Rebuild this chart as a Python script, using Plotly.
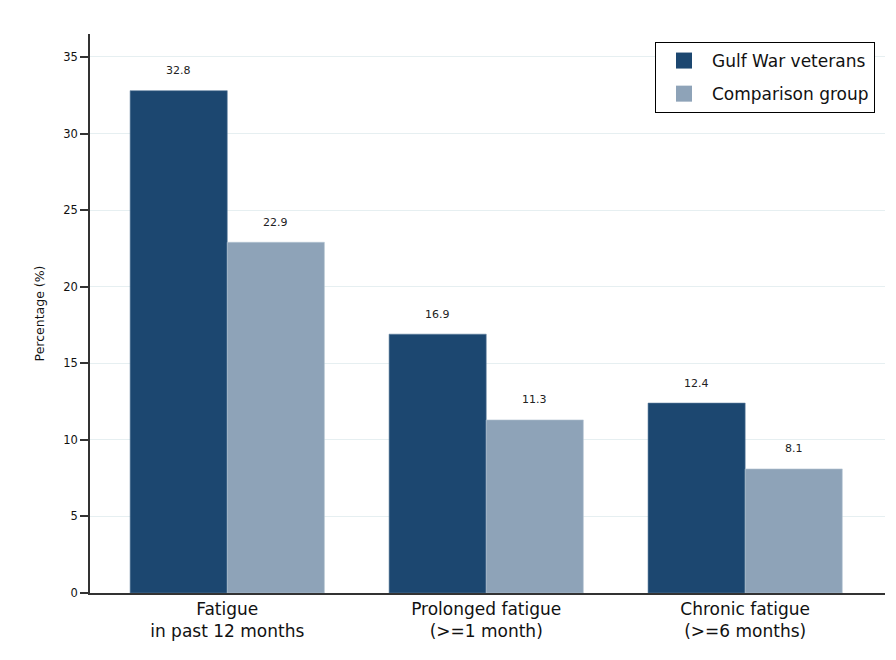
import plotly.graph_objects as go

categories = ["Fatigue<br>in past 12 months", "Prolonged fatigue<br>(>=1 month)", "Chronic fatigue<br>(>=6 months)"]
gulf_values = [32.8, 16.9, 12.4]
comparison_values = [22.9, 11.3, 8.1]
series_names = ["Gulf War veterans", "Comparison group"]
y_ticks = [0, 5, 10, 15, 20, 25, 30, 35]

dark = "#1c4770"
light = "#8ea3b8"
font_family = "DejaVu Sans, Liberation Sans, Arial, sans-serif"

x_idx = list(range(len(categories)))
fig = go.Figure()
fig.add_trace(go.Bar(x=x_idx, y=gulf_values, name=series_names[0], showlegend=False,
                     marker=dict(color=dark, line=dict(color="#5a7c9c", width=0.6))))
fig.add_trace(go.Bar(x=x_idx, y=comparison_values, name=series_names[1], showlegend=False,
                     marker=dict(color=light, line=dict(color="#b4c4d2", width=0.6))))
# legend entries (larger square keys, like the reference)
for name, col, grp in ((series_names[0], dark, "g1"), (series_names[1], light, "g2")):
    fig.add_trace(go.Scatter(x=[None], y=[None], mode="markers", name=name, legendgroup=grp,
                             marker=dict(symbol="square", size=16, color=col), hoverinfo="skip"))

bargap = 0.25
bw = (1 - bargap) / 2
annotations = []
for i, (g, c) in enumerate(zip(gulf_values, comparison_values)):
    for off, v in ((-bw / 2, g), (bw / 2, c)):
        annotations.append(dict(x=i + off, y=v, xref="x", yref="y", text=f"{v}",
                                showarrow=False, yshift=20,
                                font=dict(size=11, color="#222222", family=font_family)))

# page body has an 8px margin, so the figure is placed at (8, 8) on screen
OFF = 8
W, H = 896 - OFF, 660 - OFF
L, R, T, B = 90 - OFF, W - (885 - OFF), 34 - OFF, H - (593 - OFF)
pw, ph = W - L - R, H - T - B

def px_x(p):
    return (p - OFF - L) / pw

def px_y(p):
    return (H - B - (p - OFF)) / ph

fig.update_layout(
    width=W, height=H,
    margin=dict(l=L, r=R, t=T, b=B, pad=0, autoexpand=False),
    paper_bgcolor="white",
    plot_bgcolor="white",
    barmode="group",
    bargap=bargap,
    bargroupgap=0,
    font=dict(family=font_family, color="#111111"),
    annotations=annotations,
    legend=dict(x=px_x(655), y=px_y(42), xanchor="left", yanchor="top",
                bordercolor="black", borderwidth=1, bgcolor="white",
                font=dict(size=17, family=font_family, color="#111111"),
                tracegroupgap=8, itemwidth=46, itemsizing="trace"),
    showlegend=True,
)
fig.update_xaxes(
    range=[-0.53, 2.54], tickmode="array", tickvals=x_idx,
    ticktext=categories, showline=True, linecolor="#333333", linewidth=1.5,
    ticks="", showgrid=False, zeroline=False, automargin=False,
    tickfont=dict(size=17, family=font_family, color="#111111"),
)
fig.update_yaxes(
    range=[0, 36.5], tickvals=y_ticks, showline=True, linecolor="#333333", linewidth=1.5,
    ticks="outside", ticklen=8, tickcolor="#333333", tickwidth=1.5,
    showgrid=True, gridcolor="#e6eff1", gridwidth=1, zeroline=False, automargin=False,
    tickfont=dict(size=11.5, family=font_family, color="#111111"),
    title=dict(text="Percentage (%)", font=dict(size=12.5, family=font_family, color="#111111"), standoff=16),
)

fig.write_html("out.html")
